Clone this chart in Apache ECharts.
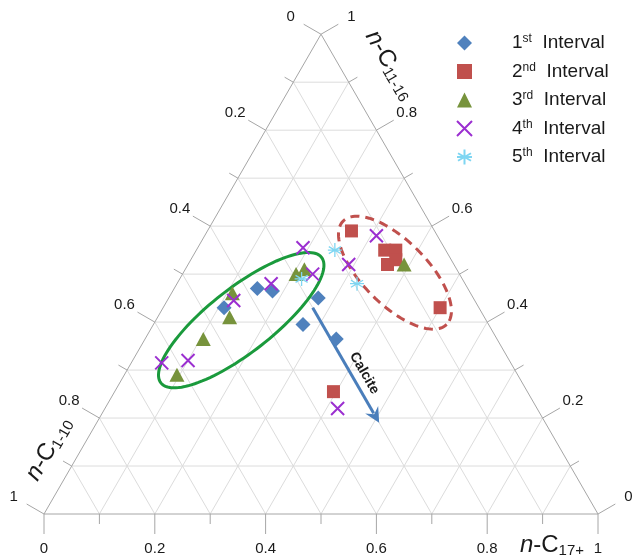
<!DOCTYPE html>
<html>
<head>
<meta charset="utf-8">
<title>Ternary plot of n-alkane fractions</title>
<script src="https://cdn.jsdelivr.net/npm/echarts@6.0.0/dist/echarts.min.js"></script>
<style>
  html, body { margin: 0; padding: 0; background: #fff; }
  #chart { width: 632px; height: 560px; }
</style>
</head>
<body>
<div id="chart"></div>
<script>
// Compositions as fractions: [n-C1-10, n-C11-16, n-C17+]
const interval1 = [
  [0.46, 0.43, 0.11],
  [0.38, 0.47, 0.15],
  [0.355, 0.465, 0.18],
  [0.28, 0.45, 0.27],
  [0.335, 0.395, 0.27],
  [0.29, 0.365, 0.345]
];
const interval2 = [
  [0.15, 0.59, 0.26],
  [0.11, 0.55, 0.34],
  [0.09, 0.55, 0.36],
  [0.12, 0.52, 0.36],
  [0.10, 0.53, 0.37],
  [0.07, 0.43, 0.50],
  [0.35, 0.255, 0.395]
];
const interval3 = [
  [0.615, 0.29, 0.095],
  [0.53, 0.365, 0.105],
  [0.46, 0.41, 0.13],
  [0.43, 0.46, 0.11],
  [0.295, 0.50, 0.205],
  [0.275, 0.51, 0.215],
  [0.09, 0.52, 0.39]
];
const interval4 = [
  [0.63, 0.315, 0.055],
  [0.58, 0.32, 0.10],
  [0.435, 0.445, 0.12],
  [0.35, 0.48, 0.17],
  [0.255, 0.555, 0.19],
  [0.265, 0.50, 0.235],
  [0.19, 0.52, 0.29],
  [0.11, 0.58, 0.31],
  [0.36, 0.22, 0.42]
];
const interval5 = [
  [0.29, 0.49, 0.22],
  [0.20, 0.55, 0.25],
  [0.195, 0.48, 0.325]
];

const seriesNames = ['1st Interval', '2nd Interval', '3rd Interval', '4th Interval', '5th Interval'];
const ordinals = [['1', 'st'], ['2', 'nd'], ['3', 'rd'], ['4', 'th'], ['5', 'th']];

// Axis ticks every 0.1, labels every 0.2
const tickValues = [0, 0.1, 0.2, 0.3, 0.4, 0.5, 0.6, 0.7, 0.8, 0.9, 1];
const labelValues = [0, 0.2, 0.4, 0.6, 0.8, 1];
const labelTexts = ['0', '0.2', '0.4', '0.6', '0.8', '1'];
const gridValues = [0.1, 0.2, 0.3, 0.4, 0.5, 0.6, 0.7, 0.8, 0.9];

// Annotation shapes, in composition space
const clusterLeft = { center: [0.442, 0.404, 0.154], semiMajor: 0.184, semiMinor: 0.058, tiltDeg: -38 };
const clusterRight = { center: [0.115, 0.503, 0.382], semiMajor: 0.132, semiMinor: 0.058, tiltDeg: 45 };
const calciteTrend = { from: [0.30, 0.43, 0.27], to: [0.30, 0.19, 0.51] };

const FONT = '"Liberation Sans", Arial, Helvetica, sans-serif';
const GRID_COLOR = '#dcdcdc';
const EDGE_COLOR = '#a6a6a6';
const TEXT_COLOR = '#1a1a1a';

const H = Math.sqrt(3) / 2;
// Barycentric [a, t, c] -> cartesian, with a at lower-left, t at top, c at lower-right
const toXY = ([a, t, c]) => [c + t / 2, t * H];

function renderFrame(params, api) {
  const pt = (a, t, c) => api.coord(toXY([a, t, c]));
  const kids = [];
  const seg = (p, q, stroke) => kids.push({
    type: 'line',
    shape: { x1: p[0], y1: p[1], x2: q[0], y2: q[1] },
    style: { stroke: stroke, lineWidth: 1 }
  });

  gridValues.forEach(v => {
    seg(pt(1 - v, 0, v), pt(0, 1 - v, v), GRID_COLOR);
    seg(pt(v, 0, 1 - v), pt(v, 1 - v, 0), GRID_COLOR);
    seg(pt(1 - v, v, 0), pt(0, v, 1 - v), GRID_COLOR);
  });

  seg(pt(1, 0, 0), pt(0, 0, 1), EDGE_COLOR);
  seg(pt(1, 0, 0), pt(0, 1, 0), EDGE_COLOR);
  seg(pt(0, 0, 1), pt(0, 1, 0), EDGE_COLOR);

  const axes = [
    { at: v => pt(1 - v, 0, v), dir: [0, 1] },      // n-C17+ along the base
    { at: v => pt(v, 1 - v, 0), dir: [-H, -0.5] },  // n-C1-10 on the left side
    { at: v => pt(0, v, 1 - v), dir: [H, -0.5] }    // n-C11-16 on the right side
  ];
  axes.forEach(ax => {
    tickValues.forEach((v, i) => {
      const p = ax.at(v);
      const len = i % 2 === 0 ? 20 : 10;
      seg(p, [p[0] + ax.dir[0] * len, p[1] + ax.dir[1] * len], EDGE_COLOR);
    });
    labelValues.forEach((v, i) => {
      const p = ax.at(v);
      kids.push({
        type: 'text',
        x: p[0] + ax.dir[0] * 35,
        y: p[1] + ax.dir[1] * 35,
        style: {
          text: labelTexts[i], fill: TEXT_COLOR, fontSize: 15, fontFamily: FONT,
          align: 'center', verticalAlign: 'middle'
        }
      });
    });
  });

  const titleRich = {
    i: { fontSize: 24, fontStyle: 'italic', fontFamily: FONT, fill: TEXT_COLOR, lineHeight: 26 },
    m: { fontSize: 24, fontFamily: FONT, fill: TEXT_COLOR, lineHeight: 26 },
    s: { fontSize: 15, fontFamily: FONT, fill: TEXT_COLOR, lineHeight: 10, verticalAlign: 'bottom' }
  };
  const bl = pt(1, 0, 0), br = pt(0, 0, 1), top = pt(0, 1, 0);
  const title = (text, x, y, rot) => kids.push({
    type: 'text', x: x, y: y, rotation: rot,
    style: { text: text, rich: titleRich, align: 'center', verticalAlign: 'middle' }
  });
  title('{i|n}{m|-C}{s|17+}', br[0] - 46, br[1] + 31, 0);
  title('{i|n}{m|-C}{s|1-10}', bl[0] + 5, bl[1] - 65, Math.PI / 3);
  title('{i|n}{m|-C}{s|11-16}', top[0] + 69, top[1] + 31, -Math.PI / 3);

  return { type: 'group', children: kids };
}

function renderEllipse(shape, style) {
  return function (params, api) {
    const c = api.coord(toXY(shape.center));
    const unit = api.size([1, 0])[0];
    const a = shape.semiMajor * unit, b = shape.semiMinor * unit;
    const r = shape.tiltDeg * Math.PI / 180;
    const pts = [];
    for (let k = 0; k < 120; k++) {
      const th = (k / 120) * Math.PI * 2;
      const lx = a * Math.cos(th), ly = b * Math.sin(th);
      pts.push([c[0] + lx * Math.cos(r) - ly * Math.sin(r), c[1] + lx * Math.sin(r) + ly * Math.cos(r)]);
    }
    return { type: 'polygon', shape: { points: pts }, style: Object.assign({ fill: 'none' }, style) };
  };
}

function renderArrow(params, api) {
  const p0 = api.coord(toXY(calciteTrend.from));
  const p1 = api.coord(toXY(calciteTrend.to));
  const dx = p1[0] - p0[0], dy = p1[1] - p0[1];
  const L = Math.hypot(dx, dy);
  const u = [dx / L, dy / L];
  const n = [u[1], -u[0]];
  const color = '#4a7ebb';
  const head = [
    p1,
    [p1[0] - u[0] * 15 + n[0] * 7.5, p1[1] - u[1] * 15 + n[1] * 7.5],
    [p1[0] - u[0] * 10, p1[1] - u[1] * 10],
    [p1[0] - u[0] * 15 - n[0] * 7.5, p1[1] - u[1] * 15 - n[1] * 7.5]
  ];
  const mid = [(p0[0] + p1[0]) / 2, (p0[1] + p1[1]) / 2];
  return {
    type: 'group',
    children: [
      { type: 'line', shape: { x1: p0[0], y1: p0[1], x2: p1[0] - u[0] * 11, y2: p1[1] - u[1] * 11 },
        style: { stroke: color, lineWidth: 3 } },
      { type: 'polygon', shape: { points: head }, style: { fill: color } },
      { type: 'text', x: mid[0] + u[0] * 16 + n[0] * 12, y: mid[1] + u[1] * 16 + n[1] * 12,
        rotation: -Math.atan2(u[1], u[0]),
        style: { text: 'Calcite', fill: TEXT_COLOR, fontSize: 14, fontWeight: 'bold', fontFamily: FONT,
                 align: 'center', verticalAlign: 'middle' } }
    ]
  };
}

const markerStyles = [
  { symbol: 'diamond', symbolSize: [15, 15], itemStyle: { color: '#4f81bd', opacity: 1 } },
  { symbol: 'rect', symbolSize: [13, 13], itemStyle: { color: '#c0504d', opacity: 1 } },
  { symbol: 'triangle', symbolSize: [15, 14], itemStyle: { color: '#77933c', opacity: 1 } },
  { symbol: 'path://M0,0L10,10M10,0L0,10', symbolSize: [13, 13],
    itemStyle: { color: 'rgba(0,0,0,0)', borderColor: '#9b2fd0', borderWidth: 2, opacity: 1 } },
  { symbol: 'path://M5,0L5,10M0.67,2.5L9.33,7.5M9.33,2.5L0.67,7.5M0,5L10,5', symbolSize: [14, 14],
    itemStyle: { color: 'rgba(0,0,0,0)', borderColor: '#7fd6f2', borderWidth: 1.3, opacity: 1 } }
];
const intervals = [interval1, interval2, interval3, interval4, interval5];

const scatterSeries = intervals.map((rows, i) => Object.assign({
  name: seriesNames[i],
  type: 'scatter',
  data: rows.map(toXY),
  z: 5,
  silent: true
}, markerStyles[i]));

const chart = echarts.init(document.getElementById('chart'), null, { renderer: 'canvas' });
chart.setOption({
  animation: false,
  backgroundColor: '#ffffff',
  grid: { left: 44, top: 514 - 554 * H, width: 554, height: 554 * H },
  xAxis: { type: 'value', min: 0, max: 1, show: false },
  yAxis: { type: 'value', min: 0, max: H, show: false },
  legend: {
    data: seriesNames,
    orient: 'vertical',
    left: 451,
    top: 28,
    itemWidth: 15,
    itemHeight: 15,
    itemGap: 9,
    selectedMode: false,
    formatter: name => {
      const o = ordinals[seriesNames.indexOf(name)];
      return '{n|' + o[0] + '}{s|' + o[1] + '}{t|  Interval}';
    },
    textStyle: {
      color: TEXT_COLOR,
      fontFamily: FONT,
      rich: {
        n: { fontSize: 19, lineHeight: 20, padding: [0, 0, 0, 35], color: TEXT_COLOR, fontFamily: FONT },
        s: { fontSize: 12, lineHeight: 12, verticalAlign: 'top', color: TEXT_COLOR, fontFamily: FONT },
        t: { fontSize: 19, lineHeight: 20, color: TEXT_COLOR, fontFamily: FONT }
      }
    }
  },
  series: [
    { type: 'custom', name: 'frame', renderItem: renderFrame, data: [[0, 0]], silent: true, clip: false, z: 1 },
    { type: 'custom', name: 'cluster-left', renderItem: renderEllipse(clusterLeft, { stroke: '#1a9a3c', lineWidth: 3 }),
      data: [toXY(clusterLeft.center)], silent: true, clip: false, z: 3 },
    { type: 'custom', name: 'cluster-right', renderItem: renderEllipse(clusterRight, { stroke: '#c0504d', lineWidth: 3, lineDash: [9, 6] }),
      data: [toXY(clusterRight.center)], silent: true, clip: false, z: 3 },
    { type: 'custom', name: 'calcite', renderItem: renderArrow, data: [toXY(calciteTrend.from)], silent: true, clip: false, z: 4 }
  ].concat(scatterSeries)
});
</script>
</body>
</html>
